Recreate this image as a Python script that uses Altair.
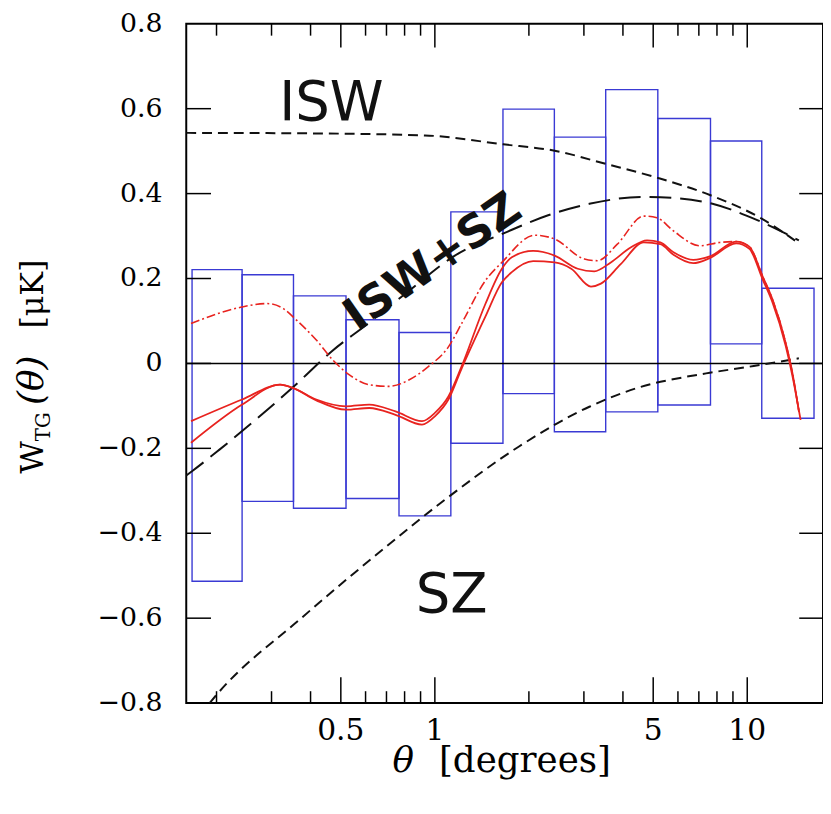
import altair as alt
import pandas as pd

# ---------------- data ----------------
# bin edges of the measured cross-correlation boxes (degrees)
box_edges = [0.167, 0.2415, 0.3527, 0.5195, 0.7677, 1.125, 1.652,
             2.413, 3.523, 5.173, 7.627, 11.13, 16.36]
box_top = [0.221, 0.209, 0.159, 0.103, 0.073, 0.357, 0.599,
           0.533, 0.645, 0.577, 0.524, 0.177]
box_bottom = [-0.513, -0.325, -0.341, -0.318, -0.359, -0.188, -0.071,
              -0.161, -0.114, -0.098, 0.046, -0.129]

# ISW prediction (short dashes)
isw_theta = [0.160, 0.375, 0.930, 1.655, 2.418, 3.523, 5.166, 7.627, 11.12, 14.63]
isw_w = [0.543, 0.542, 0.537, 0.516, 0.501, 0.470, 0.437, 0.396, 0.341, 0.283]

# SZ prediction (short dashes)
sz_theta = [0.190, 0.2014, 0.3748, 0.6868, 1.0812, 1.865, 3.123, 5.017, 5.721,
            7.588, 10.49, 14.63]
sz_w = [-0.800, -0.778, -0.599, -0.436, -0.320, -0.195, -0.102, -0.047, -0.038,
        -0.022, -0.006, 0.012]

# ISW+SZ prediction (long dashes)
tot_theta = [0.160, 0.1669, 0.2044, 0.3527, 0.4701, 0.6088, 0.8235, 1.1486,
             1.7035, 2.305, 3.123, 4.631, 5.721, 7.739, 10.49, 14.63]
tot_w = [-0.264, -0.254, -0.203, -0.055, 0.030, 0.093, 0.170, 0.252,
         0.310, 0.349, 0.376, 0.392, 0.390, 0.376, 0.341, 0.290]

# red solid curves
s1_theta = [0.1657, 0.2415, 0.3195, 0.3522, 0.4174, 0.5195, 0.6164, 0.7484, 0.9095,
            1.002, 1.105, 1.218, 1.451, 1.639, 1.763, 2.064, 2.418, 2.867, 3.238,
            3.658, 4.233, 4.778, 5.269, 5.806, 6.719, 7.588, 9.216, 10.16, 11.20,
            12.04, 13.27, 13.94, 14.64]
s1_w = [-0.136, -0.085, -0.050, -0.058, -0.085, -0.101, -0.097, -0.113, -0.136,
        -0.116, -0.078, -0.007, 0.140, 0.223, 0.250, 0.265, 0.254, 0.223, 0.217,
        0.238, 0.273, 0.290, 0.285, 0.262, 0.244, 0.252, 0.287, 0.275, 0.205,
        0.151, 0.049, -0.021, -0.114]

s2_theta = [0.1657, 0.2415, 0.3195, 0.3522, 0.4174, 0.5195, 0.6164, 0.7484, 0.9095,
            1.002, 1.105, 1.218, 1.451, 1.639, 1.763, 2.064, 2.418, 2.733, 3.161,
            3.401, 3.935, 4.665, 5.269, 5.806, 6.719, 7.588, 9.216, 10.16, 11.20,
            12.04, 13.27, 13.94, 14.82]
s2_w = [-0.187, -0.097, -0.050, -0.058, -0.087, -0.109, -0.105, -0.121, -0.144,
        -0.124, -0.085, -0.012, 0.110, 0.191, 0.215, 0.241, 0.238, 0.223, 0.181,
        0.188, 0.234, 0.285, 0.281, 0.256, 0.236, 0.248, 0.283, 0.270, 0.198,
        0.144, 0.042, -0.028, -0.133]

# red dash-dot curve
dd_theta = [0.1657, 0.2012, 0.2415, 0.2898, 0.3274, 0.3607, 0.4174, 0.4715, 0.5326,
            0.6164, 0.7131, 0.8254, 0.9550, 1.105, 1.218, 1.451, 1.639, 2.090,
            2.418, 3.010, 3.318, 3.838, 4.665, 5.140, 5.806, 7.055, 8.164, 9.216,
            10.16, 11.20, 12.04, 13.27, 13.94, 14.64]
dd_w = [0.094, 0.117, 0.133, 0.141, 0.129, 0.102, 0.055, 0.008, -0.027,
        -0.050, -0.054, -0.039, -0.007, 0.039, 0.094, 0.195, 0.238, 0.302,
        0.293, 0.246, 0.242, 0.281, 0.347, 0.343, 0.312, 0.277, 0.285, 0.287,
        0.275, 0.205, 0.151, 0.049, -0.021, -0.114]

# axis ticks and tick labels
x_labels = [0.5, 1, 5, 10]
x_label_text = ["0.5", "1", "5", "10"]
x_minor = [0.2, 0.3, 0.4, 0.6, 0.7, 0.8, 0.9, 2, 3, 4, 6, 7, 8, 9]
y_ticks = [-0.8, -0.6, -0.4, -0.2, 0.0, 0.2, 0.4, 0.6, 0.8]
y_label_text = ["\u22120.8", "\u22120.6", "\u22120.4", "\u22120.2", "0",
                "0.2", "0.4", "0.6", "0.8"]
y_inner = [-0.6, -0.4, -0.2, 0.0, 0.2, 0.4, 0.6]

annotations = pd.DataFrame({
    "theta": [0.4665, 1.132],
    "w": [0.613, -0.546],
    "label": ["ISW", "SZ"],
})
diag_label = pd.DataFrame({"theta": [0.9855], "w": [0.238], "label": ["ISW+SZ"]})

# ---------------- chart ----------------
W, H = 643, 686
XS = alt.Scale(type="log", domain=[0.16, 17.48], nice=False)
YS = alt.Scale(domain=[-0.8, 0.8], nice=False)
SERIF = "DejaVu Serif"

box_df = pd.DataFrame({"lo": box_edges[:-1], "hi": box_edges[1:],
                       "bottom": box_bottom, "top": box_top})

boxes = alt.Chart(box_df).mark_rect(
    fill="transparent", stroke="#3a3ad4", strokeWidth=1.4
).encode(
    x=alt.X("lo:Q", scale=XS, axis=None),
    x2="hi:Q",
    y=alt.Y("bottom:Q", scale=YS, axis=None),
    y2="top:Q",
)

zero = alt.Chart(pd.DataFrame({"z": [0.0]})).mark_rule(
    color="black", strokeWidth=1.5
).encode(y=alt.Y("z:Q", scale=YS, axis=None))


def curve(thetas, ws, color, width, dash=None):
    df = pd.DataFrame({"theta": thetas, "w": ws})
    kw = dict(clip=True, interpolate="monotone", color=color, strokeWidth=width)
    if dash is not None:
        kw["strokeDash"] = dash
    return alt.Chart(df).mark_line(**kw).encode(
        x=alt.X("theta:Q", scale=XS, axis=None),
        y=alt.Y("w:Q", scale=YS, axis=None),
    )


isw = curve(isw_theta, isw_w, "#111111", 2, [10, 6])
sz = curve(sz_theta, sz_w, "#111111", 2, [10, 6])
tot = curve(tot_theta, tot_w, "#111111", 2, [22, 9])
s1 = curve(s1_theta, s1_w, "#e8231f", 1.8)
s2 = curve(s2_theta, s2_w, "#e8231f", 1.8)
dd = curve(dd_theta, dd_w, "#e8231f", 1.6, [9, 3, 2, 3])


def xticks(vals, y0, y1):
    return alt.Chart(pd.DataFrame({"t": vals})).mark_rule(
        color="black", strokeWidth=1.5
    ).encode(x=alt.X("t:Q", scale=XS, axis=None), y=alt.value(y0), y2=alt.value(y1))


def yticks(vals, x0, x1):
    return alt.Chart(pd.DataFrame({"v": vals})).mark_rule(
        color="black", strokeWidth=1.5
    ).encode(y=alt.Y("v:Q", scale=YS, axis=None), x=alt.value(x0), x2=alt.value(x1))


tick_layers = [
    xticks(x_labels, H, H - 26), xticks(x_minor, H, H - 12),
    xticks(x_labels, 0, 24), xticks(x_minor, 0, 12),
    yticks(y_inner, 0, 25), yticks(y_inner, W - 24, W),
]

xlab = alt.Chart(pd.DataFrame({"t": x_labels, "s": x_label_text})).mark_text(
    font=SERIF, fontSize=30, color="black", align="center", baseline="top"
).encode(x=alt.X("t:Q", scale=XS, axis=None), y=alt.value(H + 13), text="s:N")

ylab = alt.Chart(pd.DataFrame({"v": y_ticks, "s": y_label_text})).mark_text(
    font=SERIF, fontSize=27, color="black", align="right", baseline="middle"
).encode(y=alt.Y("v:Q", scale=YS, axis=None), x=alt.value(-24), text="s:N")

ann = alt.Chart(annotations).mark_text(
    font="DejaVu Sans", fontSize=55, color="#111111", align="center", baseline="middle"
).encode(x=alt.X("theta:Q", scale=XS, axis=None),
         y=alt.Y("w:Q", scale=YS, axis=None), text="label:N")

diag = alt.Chart(diag_label).mark_text(
    font="DejaVu Sans", fontSize=46, fontWeight="bold", color="#111111",
    align="center", baseline="middle", angle=325
).encode(x=alt.X("theta:Q", scale=XS, axis=None),
         y=alt.Y("w:Q", scale=YS, axis=None), text="label:N")


def label(txt, x, y, size, angle=0, style="normal", baseline="alphabetic"):
    kw = dict(font=SERIF, fontSize=size, color="black", align="center",
              baseline=baseline, fontStyle=style)
    if angle:
        kw["angle"] = angle
    return alt.Chart(pd.DataFrame({"t": [txt]})).mark_text(**kw).encode(
        x=alt.value(x), y=alt.value(y), text="t:N")


titles = [
    label("θ", 219, 756, 36, style="italic"),
    label("[degrees]", 342, 756, 36),
    label("W", -145, 438, 32, angle=270),
    label("TG", -138, 407, 20, angle=270),
    label("(θ)", -145, 360, 36, angle=270, style="italic"),
    label("[μK]", -145, 273, 32, angle=270),
]

chart = alt.layer(
    boxes, zero, isw, sz, tot, dd, s1, s2, *tick_layers, xlab, ylab, ann, diag, *titles
).properties(
    width=W, height=H,
    autosize=alt.AutoSizeParams(type="none"),
    padding={"left": 180, "top": 12, "right": 0, "bottom": 100},
).configure_view(stroke="black", strokeWidth=2)

chart.save("out.html", embed_options={"renderer": "svg", "actions": False})
